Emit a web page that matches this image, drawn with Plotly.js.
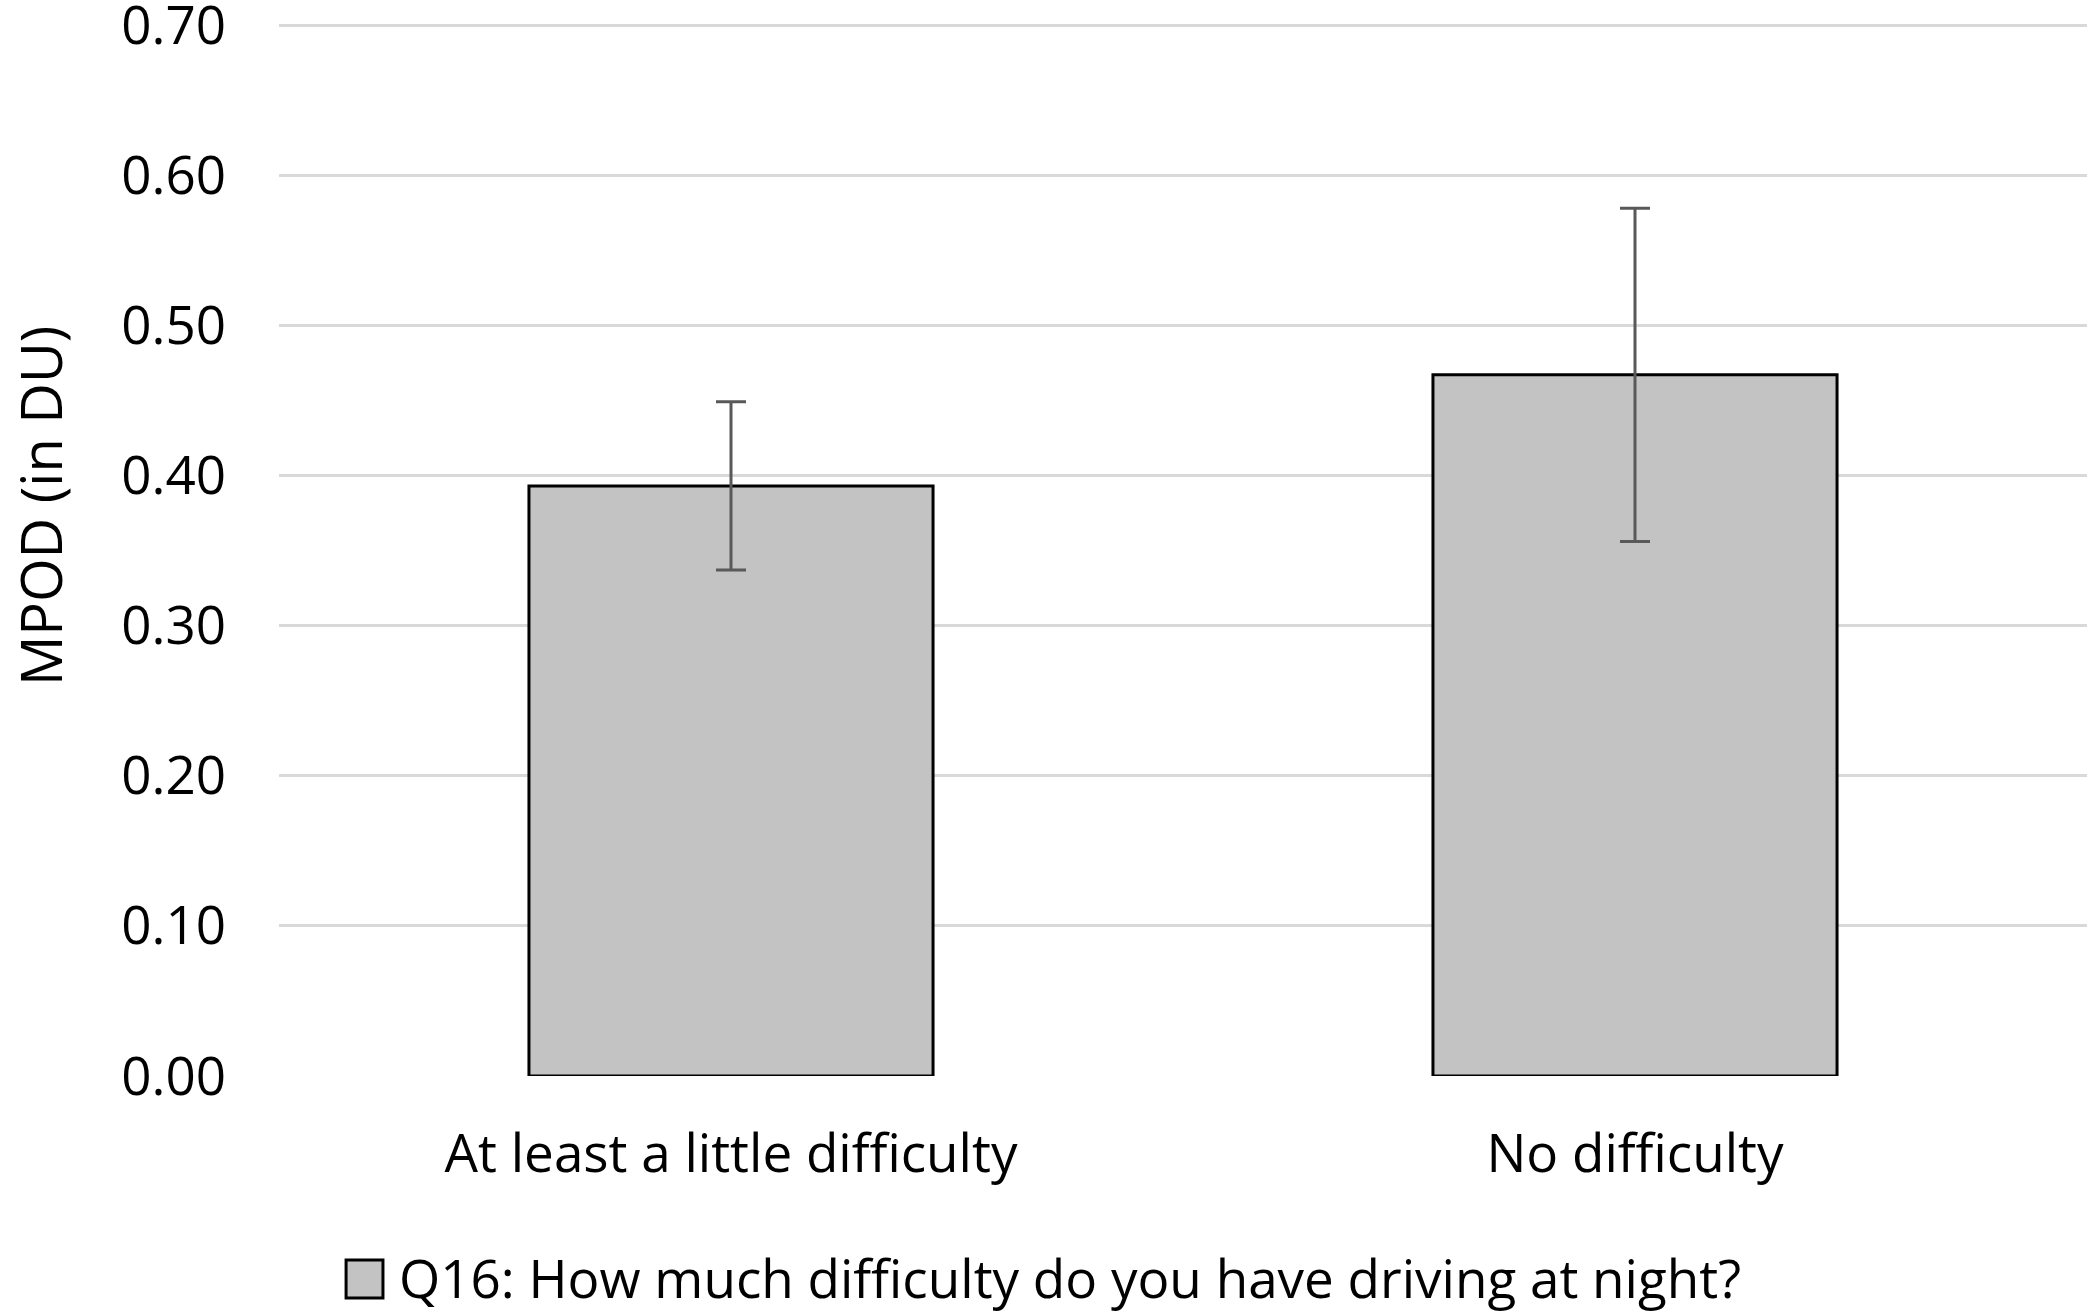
<!DOCTYPE html>
<html>
<head>
<meta charset="utf-8">
<script src="https://cdn.plot.ly/plotly-3.0.1.min.js"></script>
<style>html,body{margin:0;padding:0;background:#fff;}#chart{width:2091px;height:1315px;}</style>
</head>
<body>
<div id="chart"></div>
<script>
const categories = ["At least a little difficulty", "No difficulty"];
const mpodMeans = [0.393, 0.467];
const mpodErrors = [0.056, 0.111];
const yTickVals = [0, 0.1, 0.2, 0.3, 0.4, 0.5, 0.6, 0.7];
const seriesName = "Q16: How much difficulty do you have driving at night?";
const yTitle = "MPOD (in DU)";

const FONT = "Open Sans, sans-serif";

const trace = {
  type: "bar",
  x: categories,
  y: mpodMeans,
  name: seriesName,
  width: 0.447,
  marker: { color: "#c3c3c3", line: { color: "#000000", width: 3 } },
  error_y: { type: "data", array: mpodErrors, visible: true, color: "#595959", thickness: 3, width: 15 },
  showlegend: false
};

const layout = {
  width: 2091,
  height: 1315,
  margin: { l: 279, r: 4, t: 10, b: 239 },
  paper_bgcolor: "#ffffff",
  plot_bgcolor: "#ffffff",
  font: { family: FONT, size: 53, color: "#000000" },
  bargap: 0.553,
  xaxis: {
    type: "category",
    showgrid: false,
    showline: false,
    zeroline: false,
    ticks: "",
    ticklabelstandoff: 42,
    tickfont: { family: FONT, size: 53, color: "#000000" }
  },
  yaxis: {
    range: [0, 0.71],
    tickvals: yTickVals,
    tickformat: ".2f",
    showgrid: true,
    gridcolor: "#d9d9d9",
    gridwidth: 3,
    zeroline: false,
    showline: false,
    ticks: "",
    ticklabelstandoff: 52,
    ticklabeloverflow: "allow",
    tickfont: { family: FONT, size: 53, color: "#000000" }
  },
  shapes: [
    { type: "rect", xref: "paper", yref: "paper", x0: 0.0371, x1: 0.0575, y0: -0.1726, y1: -0.2083,
      fillcolor: "#c3c3c3", line: { color: "#000000", width: 3 } }
  ],
  annotations: [
    { xref: "paper", yref: "paper", x: -0.1322, y: 0.5347, text: yTitle, textangle: -90,
      showarrow: false, xanchor: "center", yanchor: "middle", font: { family: FONT, size: 56, color: "#000000" } },
    { xref: "paper", yref: "paper", x: 0.0653, y: -0.1886, text: seriesName,
      showarrow: false, xanchor: "left", yanchor: "middle", font: { family: FONT, size: 53, color: "#000000" } }
  ]
};

Plotly.newPlot("chart", [trace], layout, { staticPlot: true, displayModeBar: false });
</script>
</body>
</html>
